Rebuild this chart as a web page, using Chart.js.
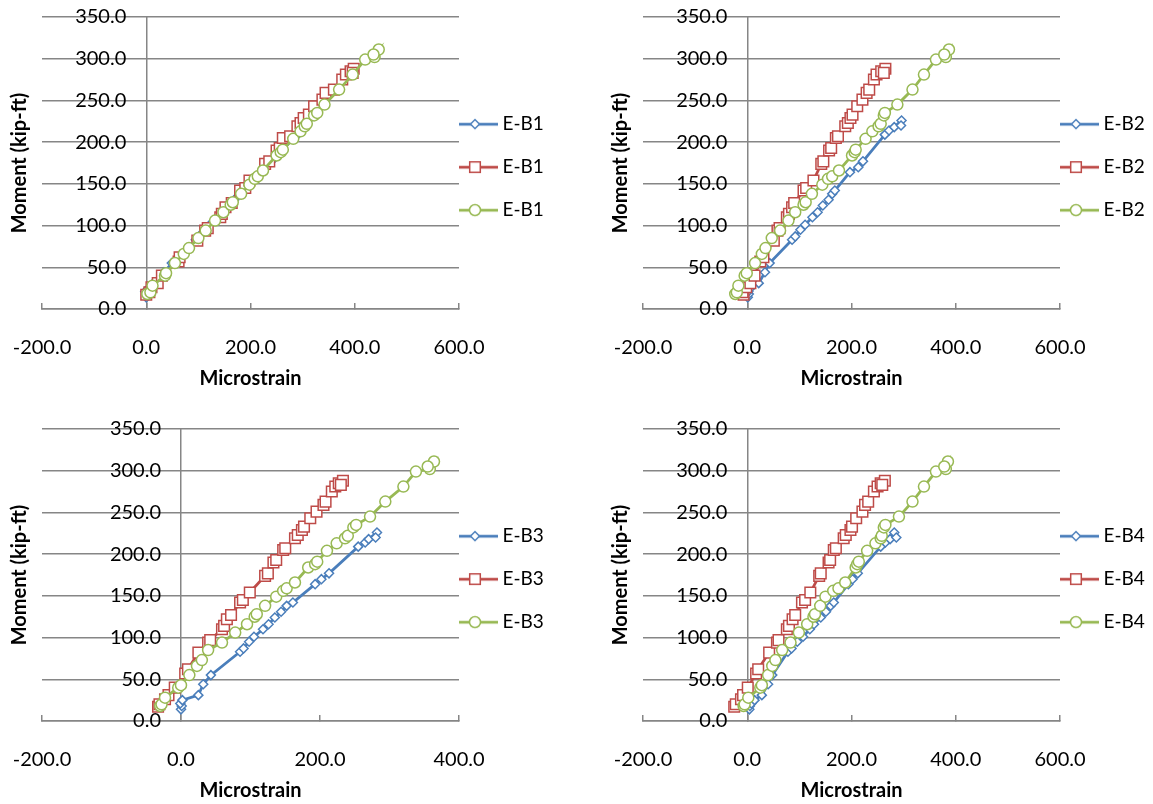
<!DOCTYPE html>
<html>
<head>
<meta charset="utf-8">
<script src="https://cdn.jsdelivr.net/npm/chart.js@4.4.0/dist/chart.umd.min.js"></script>
<style>
  html, body { margin: 0; padding: 0; background: #fff; overflow: hidden; }
  body { width: 1153px; height: 804px; position: relative; }
  .panel { position: absolute; width: 552px; height: 395px; }
</style>
</head>
<body>
<div class="panel" style="left:0;top:0"><canvas id="c1"></canvas></div>
<div class="panel" style="left:601px;top:0"><canvas id="c2"></canvas></div>
<div class="panel" style="left:0;top:412px"><canvas id="c3"></canvas></div>
<div class="panel" style="left:601px;top:412px"><canvas id="c4"></canvas></div>
<script>
// Moment levels (kip-ft) of the three load tests, same for every gauge
const momentBlue = [14, 18, 21, 25, 31, 44, 55, 83, 87, 95, 101, 110, 116, 124, 131, 138, 142, 164, 170, 177, 209, 214, 218, 226, 220];
const momentRed = [17, 20, 26, 31, 40, 57, 62, 82, 94, 97, 110, 114, 122, 127, 142, 145, 154, 174, 177, 190, 193, 205, 207, 219, 223, 229, 233, 243, 251, 259, 263, 275, 281, 285, 288, 283];
const momentGreen = [18, 20, 28, 40, 43, 55, 66, 73, 85, 94, 106, 116, 125, 128, 138, 149, 156, 159, 166, 184, 188, 191, 204, 213, 219, 222, 232, 235, 245, 263, 281, 299, 302, 311, 305];

// Microstrain read for each gauge
const strainB1Blue = [0, 2, -2, 5, 14, 34, 49, 95, 101, 113, 122, 136, 146, 158, 169, 180, 186, 220, 229, 240, 290, 298, 304, 310, 306];
const strainB1Red = [0, 6, 10, 22, 30, 62, 64, 98, 113, 118, 142, 145, 152, 164, 180, 190, 198, 228, 236, 250, 256, 262, 276, 290, 296, 302, 312, 322, 338, 344, 360, 376, 383, 392, 398, 396];
const strainB1Green = [2, 8, 12, 36, 38, 55, 72, 82, 100, 114, 132, 148, 162, 166, 182, 198, 208, 214, 224, 250, 258, 262, 282, 296, 304, 308, 322, 328, 342, 370, 396, 420, 438, 446, 436];

const strainB2Blue = [1, 3, 2, 6, 22, 34, 43, 86, 92, 102, 111, 125, 135, 145, 156, 163, 168, 197, 213, 222, 264, 272, 282, 296, 295];
const strainB2Red = [-7, -9, -2, 6, 14, 25, 31, 51, 58, 62, 76, 80, 86, 90, 108, 113, 127, 142, 146, 157, 161, 170, 174, 188, 193, 198, 202, 211, 221, 229, 234, 243, 248, 257, 265, 262];
const strainB2Green = [-23, -20, -17, -5, -1, 15, 28, 35, 47, 63, 79, 92, 108, 112, 124, 144, 155, 163, 176, 201, 206, 208, 227, 240, 252, 256, 262, 264, 288, 317, 339, 362, 381, 387, 378];

const strainB3Blue = [0, 1, -1, 2, 25, 32, 43, 85, 90, 98, 105, 118, 126, 135, 144, 152, 161, 193, 202, 213, 255, 265, 270, 282, 280];
const strainB3Red = [-33, -31, -23, -18, -9, 6, 10, 25, 39, 42, 59, 62, 66, 72, 85, 89, 99, 121, 125, 133, 137, 147, 150, 164, 168, 174, 177, 186, 195, 205, 208, 217, 222, 227, 233, 230];
const strainB3Green = [-30, -28, -23, -4, 0, 12, 23, 30, 39, 59, 78, 95, 106, 109, 121, 137, 147, 152, 164, 183, 193, 196, 210, 224, 236, 240, 248, 252, 272, 294, 320, 338, 358, 364, 355];

const strainB4Blue = [4, 5, 8, 14, 28, 40, 48, 78, 85, 96, 107, 120, 128, 141, 151, 160, 166, 194, 202, 212, 256, 265, 274, 282, 286];
const strainB4Red = [-25, -22, -12, -8, 1, 17, 21, 42, 57, 60, 76, 80, 87, 92, 105, 111, 121, 138, 141, 156, 159, 166, 170, 185, 189, 198, 201, 209, 221, 226, 232, 243, 250, 256, 264, 259];
const strainB4Green = [-7, -5, 2, 25, 28, 40, 48, 54, 67, 83, 99, 115, 127, 130, 140, 150, 165, 175, 188, 208, 211, 214, 230, 246, 256, 258, 262, 265, 291, 317, 339, 362, 381, 385, 378];

const gaugeNames = ['E-B1', 'E-B2', 'E-B3', 'E-B4'];
const xRangeWide = [-200, 600];
const xRangeNarrow = [-200, 400];
const yRange = [0, 350];

const BLUE = '#4A7EBB';
const RED = '#BE4B48';
const GREEN = '#98B954';
const GRID = '#868686';

Chart.defaults.font.family = 'Lato';
Chart.defaults.color = '#000';

// little line + marker picture for the legend
function makeSwatch(color, style, radius) {
    const c = document.createElement('canvas');
    c.width = 80;
    c.height = 20;
    const ctx = c.getContext('2d');
    ctx.strokeStyle = color;
    ctx.lineWidth = 2.75;
    ctx.beginPath();
    ctx.moveTo(4, 10);
    ctx.lineTo(50, 10);
    ctx.stroke();
    ctx.fillStyle = '#fff';
    ctx.lineWidth = 1.5;
    Chart.helpers.drawPoint(ctx, { pointStyle: style, radius: radius, rotation: 0, borderWidth: 1.5 }, 27, 10);
    return c;
}

const seriesStyle = [
    { color: BLUE, style: 'rectRot', radius: 4.5 },
    { color: RED, style: 'rect', radius: 7.5 },
    { color: GREEN, style: 'circle', radius: 5.5 }
];
const swatches = seriesStyle.map(s => makeSwatch(s.color, s.style, s.radius));

function toPoints(xs, ys) {
    return xs.map((x, i) => ({ x: x, y: ys[i] }));
}

function buildChart(canvasId, name, xRange, strains) {
    const moments = [momentBlue, momentRed, momentGreen];
    // y tick labels sit 20px left of the x = 0 axis line
    const labelX = -20 * (xRange[1] - xRange[0]) / 417;
    const datasets = seriesStyle.map((s, i) => ({
        label: name,
        data: toPoints(strains[i], moments[i]),
        order: 2 - i, // later series drawn on top, like Excel
        showLine: true,
        borderColor: s.color,
        borderWidth: 2.75,
        backgroundColor: '#fff',
        pointStyle: s.style,
        pointRadius: s.radius,
        pointBorderColor: s.color,
        pointBackgroundColor: '#fff',
        pointBorderWidth: 1.5
    }));

    new Chart(document.getElementById(canvasId), {
        type: 'scatter',
        data: { datasets: datasets },
        options: {
            responsive: true,
            maintainAspectRatio: false,
            animation: false,
            events: [],
            layout: { padding: { left: 4, top: 17, right: 0, bottom: 0 } },
            plugins: {
                tooltip: { enabled: false },
                legend: {
                    position: 'right',
                    fullSize: false,
                    maxWidth: 93,
                    title: { display: true, text: ' ', font: { size: 1 }, padding: { top: 7, bottom: 0 } },
                    labels: {
                        usePointStyle: true,
                        pointStyleWidth: 10,
                        padding: 24,
                        font: { size: 19 },
                        color: '#000',
                        generateLabels: chart => chart.data.datasets.map((ds, i) => ({
                            text: ds.label,
                            pointStyle: swatches[i],
                            fillStyle: '#fff',
                            strokeStyle: ds.borderColor,
                            lineWidth: 0,
                            hidden: false,
                            datasetIndex: i,
                            fontColor: '#000'
                        }))
                    }
                }
            },
            scales: {
                x: {
                    type: 'linear',
                    position: 'bottom',
                    min: xRange[0],
                    max: xRange[1],
                    ticks: {
                        stepSize: 200,
                        maxRotation: 0,
                        padding: 10,
                        font: { size: 20, lineHeight: 3.5 },
                        color: '#000',
                        callback: v => v.toFixed(1)
                    },
                    grid: { drawOnChartArea: false, drawTicks: true, tickLength: -6, color: GRID, lineWidth: 1.5 },
                    border: { color: GRID, width: 1.5 },
                    title: {
                        display: true,
                        text: 'Microstrain',
                        font: { size: 20, weight: 'bold' },
                        color: '#000',
                        padding: { top: -26, bottom: 4 }
                    }
                },
                y: {
                    type: 'linear',
                    position: { x: 0 },
                    min: yRange[0],
                    max: yRange[1],
                    ticks: { stepSize: 50, display: false },
                    grid: { color: GRID, lineWidth: 1.5, drawTicks: false },
                    border: { color: GRID, width: 1.5 }
                },
                yLab: {
                    type: 'linear',
                    axis: 'y',
                    position: { x: labelX },
                    min: yRange[0],
                    max: yRange[1],
                    ticks: {
                        stepSize: 50,
                        font: { size: 20 },
                        color: '#000',
                        callback: v => v.toFixed(1)
                    },
                    grid: { display: false, drawTicks: false },
                    border: { display: false }
                },
                yTitle: {
                    type: 'linear',
                    axis: 'y',
                    position: 'left',
                    ticks: { display: false },
                    grid: { display: false, drawTicks: false },
                    border: { display: false },
                    title: {
                        display: true,
                        text: 'Moment (kip-ft)',
                        font: { size: 20, weight: 'bold' },
                        color: '#000',
                        padding: { top: 4, bottom: 10 }
                    }
                }
            }
        }
    });
}

buildChart('c1', gaugeNames[0], xRangeWide, [strainB1Blue, strainB1Red, strainB1Green]);
buildChart('c2', gaugeNames[1], xRangeWide, [strainB2Blue, strainB2Red, strainB2Green]);
buildChart('c3', gaugeNames[2], xRangeNarrow, [strainB3Blue, strainB3Red, strainB3Green]);
buildChart('c4', gaugeNames[3], xRangeWide, [strainB4Blue, strainB4Red, strainB4Green]);
</script>
</body>
</html>
